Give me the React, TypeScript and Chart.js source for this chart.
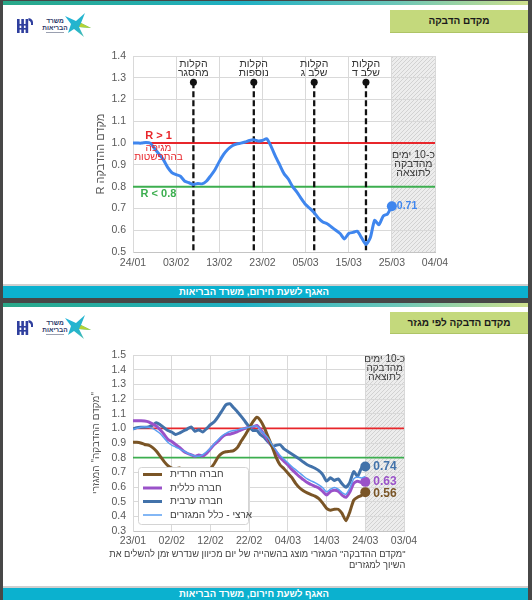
import React, { useEffect, useRef } from 'react';
import { Chart, registerables } from 'chart.js';

Chart.register(...registerables);

const FONT = "'Liberation Sans', Arial, Helvetica, sans-serif";
Chart.defaults.font.family = FONT;
Chart.defaults.color = '#595959';

// ---------------- Slide 1 : R over time ----------------
const R_X_LABELS = ['24/01', '03/02', '13/02', '23/02', '05/03', '15/03', '25/03', '04/04'];
const R_VALUES = [
  1.0, 1.0, 1.0, 1.003, 1.0, 0.975, 0.95, 0.925, 0.89, 0.865,
  0.855, 0.848, 0.825, 0.818, 0.81, 0.815, 0.813, 0.825, 0.85, 0.878,
  0.915, 0.948, 0.972, 0.988, 0.996, 1.0, 1.005, 1.012, 1.015, 1.01,
  1.012, 1.02, 0.985, 0.94, 0.9, 0.86, 0.835, 0.8, 0.775, 0.745,
  0.718, 0.7, 0.68, 0.655, 0.638, 0.63, 0.615, 0.6, 0.585, 0.56,
  0.585, 0.59, 0.595, 0.565, 0.535, 0.565, 0.645, 0.625, 0.665, 0.675,
  0.71,
];
const R_LAST_LABEL = '0.71';
const R_Y_MIN = 0.5;
const R_Y_MAX = 1.4;
const EVENT_DAYS = [14, 28, 42, 54];
const EVENT_TOP = 1.28;
const EVENT_LABELS = [
  ['הקלות', 'מהסגר'],
  ['הקלות', 'נוספות'],
  ['הקלות', 'שלב ג'],
  ['הקלות', 'שלב ד'],
];
const R_HIGH = 1.0;
const R_LOW = 0.8;
const R_HIGH_TEXT = 'R > 1';
const R_HIGH_SUB = ['מגיפה', 'בהתפשטות'];
const R_LOW_TEXT = 'R < 0.8';
const R_Y_TITLE = 'מקדם ההדבקה R';

// shared
const DAY_MIN = 0;
const DAY_MAX = 70;
const LAG_START = 60;
const LAG_TEXT = ['כ-10 ימים', 'מהדבקה', 'לתוצאה'];

// ---------------- Slide 2 : R by sector ----------------
const S_X_LABELS = ['23/01', '02/02', '12/02', '22/02', '04/03', '14/03', '24/03', '03/04'];
const S_Y_MIN = 0.3;
const S_Y_MAX = 1.5;
const SECTOR_NAMES = ['חברה חרדית', 'חברה כללית', 'חברה ערבית', 'ארצי - כלל המגזרים'];
const HAREDI = [
  0.905, 0.905, 0.9, 0.89, 0.885, 0.87, 0.845, 0.81, 0.775, 0.745,
  0.728, 0.725, 0.73, 0.71, 0.7, 0.69, 0.685, 0.69, 0.695, 0.705,
  0.725, 0.76, 0.805, 0.83, 0.84, 0.843, 0.848, 0.87, 0.915, 0.955,
  1.0, 1.045, 1.075, 1.05, 1.0, 0.935, 0.87, 0.8, 0.75, 0.725,
  0.695, 0.665, 0.625, 0.595, 0.575, 0.56, 0.548, 0.538, 0.52, 0.49,
  0.455, 0.442, 0.448, 0.448, 0.42, 0.37, 0.43, 0.51, 0.53, 0.542,
  0.565,
];
const GENERAL = [
  1.051, 1.051, 1.051, 1.05, 1.044, 1.03, 1.016, 0.99, 0.96, 0.925,
  0.91, 0.89, 0.87, 0.845, 0.83, 0.82, 0.81, 0.818, 0.812, 0.83,
  0.86, 0.89, 0.912, 0.94, 0.957, 0.96, 0.968, 0.978, 0.99, 1.0,
  1.005, 1.01, 1.02, 0.99, 0.955, 0.915, 0.875, 0.84, 0.8, 0.775,
  0.75, 0.72, 0.695, 0.67, 0.65, 0.63, 0.617, 0.605, 0.593, 0.57,
  0.545, 0.57, 0.578, 0.572, 0.545, 0.53, 0.565, 0.625, 0.64, 0.63,
  0.635,
];
const ARAB = [
  0.995, 1.005, 1.007, 1.007, 1.01, 1.02, 1.038, 1.025, 1.005, 0.985,
  0.975, 0.958, 0.968, 0.982, 0.995, 1.01, 0.98, 0.99, 0.975, 0.998,
  1.025, 1.045, 1.08, 1.12, 1.16, 1.168, 1.14, 1.112, 1.08, 1.045,
  1.01, 0.985, 0.985, 0.955, 0.935, 0.905, 0.878, 0.885, 0.888, 0.86,
  0.842, 0.825, 0.808, 0.79, 0.77, 0.752, 0.74, 0.728, 0.712, 0.685,
  0.64, 0.663, 0.645, 0.655, 0.622, 0.598, 0.632, 0.705, 0.672, 0.728,
  0.74,
];
const NATIONAL = [
  0.993, 1.0, 1.008, 1.01, 1.008, 1.0, 0.985, 0.965, 0.935, 0.905,
  0.885, 0.873, 0.86, 0.847, 0.832, 0.82, 0.812, 0.81, 0.82, 0.84,
  0.865, 0.895, 0.922, 0.948, 0.965, 0.978, 0.985, 0.99, 0.997, 1.0,
  1.008, 1.015, 1.015, 0.985, 0.96, 0.93, 0.885, 0.848, 0.815, 0.79,
  0.765, 0.74, 0.718, 0.697, 0.675, 0.655, 0.642, 0.63, 0.615, 0.595,
  0.567, 0.585, 0.596, 0.585, 0.562, 0.55, 0.592, 0.655, 0.668, 0.662,
  0.672,
];
const SECTOR_END_LABELS = ['0.56', '0.63', '0.74', ''];
const S_Y_TITLE = '"מקדם ההדבקה" המגזרי';
const FOOTNOTE = ['"מקדם ההדבקה" המגזרי מוצג בהשהייה של יום מכיוון שנדרש זמן להשלים את', 'השיוך למגזרים'];

// colours
const BLUE = '#3f86ee';
const RED = '#e8262b';
const GREEN = '#3cae4f';
const BROWN = '#7a5526';
const PURPLE = '#9a52c9';
const STEEL = '#4272aa';
const LIGHT = '#5a9ff2';
const GRID = '#d9d9d9';

function makeHatch(ctx: CanvasRenderingContext2D) {
  const c = document.createElement('canvas');
  c.width = 4;
  c.height = 4;
  const g = c.getContext('2d')!;
  g.fillStyle = '#ededed';
  g.fillRect(0, 0, 4, 4);
  g.strokeStyle = '#d2d2d2';
  g.lineWidth = 1;
  g.beginPath();
  g.moveTo(-1, 5); g.lineTo(5, -1);
  g.moveTo(3, 5); g.lineTo(5, 3);
  g.moveTo(-1, 1); g.lineTo(1, -1);
  g.stroke();
  return ctx.createPattern(c, 'repeat')!;
}

const hatchPlugin = {
  id: 'hatch',
  beforeDraw(chart: any) {
    const { ctx, chartArea, scales } = chart;
    const x0 = scales.x.getPixelForValue(LAG_START);
    const x1 = scales.x.getPixelForValue(DAY_MAX);
    ctx.save();
    ctx.fillStyle = makeHatch(ctx);
    ctx.fillRect(x0, chartArea.top, x1 - x0, chartArea.bottom - chartArea.top);
    ctx.restore();
  },
  afterDatasetsDraw(chart: any, _a: any, opts: any) {
    const { ctx, chartArea, scales } = chart;
    const x0 = scales.x.getPixelForValue(LAG_START);
    const x1 = scales.x.getPixelForValue(DAY_MAX);
    ctx.save();
    ctx.fillStyle = '#3a3a3a';
    ctx.font = `${opts.size}px ${FONT}`;
    ctx.textAlign = 'center';
    ctx.textBaseline = 'middle';
    const base = opts.baseValue != null ? scales.y.getPixelForValue(opts.baseValue) : chartArea.top;
    LAG_TEXT.forEach((t, i) => ctx.fillText(t, (x0 + x1) / 2, base + opts.offset + i * opts.step));
    ctx.restore();
  },
};

const rAnnotations = {
  id: 'rAnnotations',
  afterDatasetsDraw(chart: any) {
    const { ctx, chartArea, scales } = chart;
    const { x, y } = scales;
    ctx.save();
    ctx.textAlign = 'center';
    ctx.textBaseline = 'middle';
    ctx.fillStyle = '#333';
    ctx.font = `10.5px ${FONT}`;
    EVENT_DAYS.forEach((d, i) => {
      const px = x.getPixelForValue(d);
      EVENT_LABELS[i].forEach((t, j) => ctx.fillText(t, px, chartArea.top + 8.5 + j * 8.5));
    });
    const cx = chartArea.left + 25.5;
    const yh = y.getPixelForValue(R_HIGH);
    const yl = y.getPixelForValue(R_LOW);
    ctx.fillStyle = RED;
    ctx.font = `bold 11px ${FONT}`;
    ctx.fillText(R_HIGH_TEXT, cx, yh - 7);
    ctx.font = `10px ${FONT}`;
    ctx.fillText(R_HIGH_SUB[0], cx, yh + 5.5);
    ctx.fillText(R_HIGH_SUB[1], cx, yh + 14.5);
    ctx.fillStyle = GREEN;
    ctx.font = `bold 11px ${FONT}`;
    ctx.fillText(R_LOW_TEXT, cx, yl + 7.5);
    // end label
    const last = R_VALUES.length - 1;
    ctx.fillStyle = BLUE;
    ctx.font = `bold 10.5px ${FONT}`;
    ctx.textAlign = 'left';
    ctx.fillText(R_LAST_LABEL, x.getPixelForValue(last) + 5, y.getPixelForValue(R_VALUES[last]));
    ctx.restore();
  },
};

const sectorPlugin = {
  id: 'sectorPlugin',
  afterDatasetsDraw(chart: any) {
    const { ctx, chartArea, scales } = chart;
    const { x, y } = scales;
    ctx.save();
    // end labels
    ctx.textAlign = 'left';
    ctx.textBaseline = 'middle';
    ctx.font = `bold 12px ${FONT}`;
    SECTOR_END_LABELS.forEach((lab, i) => {
      if (!lab) return;
      const ds = chart.data.datasets[i];
      const pts = ds.data;
      const p = pts[pts.length - 1];
      ctx.fillStyle = ds.borderColor;
      ctx.fillText(lab, x.getPixelForValue(p.x) + 8, y.getPixelForValue(p.y) + (i === 0 ? 1.5 : 0));
    });
    // legend
    const bw = 110;
    const bh = 57;
    const bx = chartArea.left + 5;
    const by = chartArea.bottom - 7 - bh;
    ctx.fillStyle = '#ffffff';
    ctx.strokeStyle = '#d4d4d4';
    ctx.lineWidth = 1;
    ctx.beginPath();
    (ctx as any).roundRect(bx + 0.5, by + 0.5, bw, bh, 3);
    ctx.fill();
    ctx.stroke();
    ctx.font = `10px ${FONT}`;
    SECTOR_NAMES.forEach((name, i) => {
      const ds = chart.data.datasets[i];
      const yy = by + 7.5 + i * 13.5;
      ctx.strokeStyle = ds.borderColor;
      ctx.lineWidth = ds.borderWidth;
      ctx.beginPath();
      ctx.moveTo(bx + 5, yy);
      ctx.lineTo(bx + 24, yy);
      ctx.stroke();
      ctx.fillStyle = '#404040';
      ctx.fillText(name, bx + 32, yy);
    });
    ctx.restore();
  },
};

const toPts = (arr: number[]) => arr.map((v, i) => ({ x: i, y: v }));
const lastOnly = (n: number, r: number) => (c: any) => (c.dataIndex === n - 1 ? r : 0);

function xScale(labels: string[], padding: number, height: number) {
  return {
    type: 'linear',
    min: DAY_MIN,
    max: DAY_MAX,
    ticks: {
      stepSize: 10,
      autoSkip: false,
      maxRotation: 0,
      padding,
      color: '#595959',
      font: { size: 10.5 },
      callback: (v: number) => labels[Math.round(v / 10)] ?? '',
    },
    grid: { color: GRID, drawTicks: false },
    border: { color: '#c4c4c4' },
    afterFit: (s: any) => { s.height = height; },
  };
}

function yScale(min: number, max: number, title: string, titleSize: number, titlePad: number) {
  return {
    min,
    max,
    ticks: {
      stepSize: 0.1,
      autoSkip: false,
      padding: 7,
      color: '#595959',
      font: { size: 10.5 },
      callback: (v: number) => v.toFixed(1),
    },
    grid: { color: GRID, drawTicks: false },
    border: { color: GRID },
    title: { display: true, text: title, color: '#595959', font: { size: titleSize }, padding: { top: titlePad, bottom: 0 } },
    afterFit: (s: any) => { s.width = 43; },
  };
}

function rConfig(): any {
  return {
    type: 'line',
    data: {
      datasets: [
        {
          data: toPts(R_VALUES), borderColor: BLUE, backgroundColor: BLUE, borderWidth: 3, tension: 0.2,
          pointRadius: lastOnly(R_VALUES.length, 5), pointBorderWidth: 0, order: 0,
        },
        { data: [{ x: DAY_MIN, y: R_HIGH }, { x: DAY_MAX, y: R_HIGH }], borderColor: RED, borderWidth: 2, pointRadius: 0, order: 3 },
        { data: [{ x: DAY_MIN, y: R_LOW }, { x: DAY_MAX, y: R_LOW }], borderColor: GREEN, borderWidth: 2, pointRadius: 0, order: 3 },
        ...EVENT_DAYS.map((d) => ({
          data: [{ x: d, y: EVENT_TOP }, { x: d, y: R_Y_MIN }],
          borderColor: '#111', backgroundColor: '#111', borderWidth: 2.3, borderDash: [6, 3],
          pointRadius: [3.5, 0], pointBorderWidth: 0, order: 1,
        })),
      ],
    },
    options: {
      animation: false,
      responsive: false,
      events: [],
      layout: { padding: { left: 0, right: 35, top: 16, bottom: 3 } },
      plugins: { legend: { display: false }, tooltip: { enabled: false }, hatch: { size: 10.5, baseValue: 0.9, offset: -9.5, step: 9 } },
      scales: {
        x: xScale(R_X_LABELS, 5, 20),
        y: yScale(R_Y_MIN, R_Y_MAX, R_Y_TITLE, 11, 4),
      },
    },
    plugins: [hatchPlugin, rAnnotations],
  };
}

function sConfig(): any {
  const series = [
    { data: HAREDI, color: BROWN, width: 3, order: 1 },
    { data: GENERAL, color: PURPLE, width: 3, order: 2 },
    { data: ARAB, color: STEEL, width: 3, order: 3 },
    { data: NATIONAL, color: LIGHT, width: 1.5, order: 0 },
  ];
  return {
    type: 'line',
    data: {
      datasets: [
        ...series.map((s, i) => ({
          label: SECTOR_NAMES[i],
          data: toPts(s.data), borderColor: s.color, backgroundColor: s.color, borderWidth: s.width, tension: 0.2,
          pointRadius: SECTOR_END_LABELS[i] ? lastOnly(s.data.length, 5) : 0, pointBorderWidth: 0, order: s.order,
        })),
        { data: [{ x: DAY_MIN, y: R_HIGH }, { x: DAY_MAX, y: R_HIGH }], borderColor: RED, borderWidth: 1.8, pointRadius: 0, order: 5 },
        { data: [{ x: DAY_MIN, y: R_LOW }, { x: DAY_MAX, y: R_LOW }], borderColor: GREEN, borderWidth: 1.8, pointRadius: 0, order: 5 },
      ],
    },
    options: {
      animation: false,
      responsive: false,
      events: [],
      layout: { padding: { left: 0, right: 26, top: 15, bottom: 1 } },
      plugins: { legend: { display: false }, tooltip: { enabled: false }, hatch: { size: 10, baseValue: null, offset: 4.5, step: 9 } },
      scales: {
        x: xScale(S_X_LABELS, 4, 18),
        y: yScale(S_Y_MIN, S_Y_MAX, S_Y_TITLE, 10, 0),
      },
    },
    plugins: [hatchPlugin, sectorPlugin],
  };
}

function ChartCanvas({ make, left, top, width, height }: any) {
  const ref = useRef<HTMLCanvasElement>(null);
  useEffect(() => {
    const chart = new Chart(ref.current as HTMLCanvasElement, make());
    return () => chart.destroy();
  }, []);
  return (
    <canvas
      ref={ref}
      dir="rtl"
      width={width}
      height={height}
      style={{ position: 'absolute', left, top, width, height }}
    />
  );
}

function Logo({ top }: { top: number }) {
  return (
    <svg style={{ position: 'absolute', left: 11, top }} width="80" height="26" viewBox="0 0 80 26">
      <defs>
        <linearGradient id={`star${top}`} x1="0" y1="0" x2="1" y2="1">
          <stop offset="0" stopColor="#1fb3db" />
          <stop offset="0.6" stopColor="#27b5c9" />
          <stop offset="1" stopColor="#6cc3a0" />
        </linearGradient>
      </defs>
      <g fill="#2f3f9e">
        <rect x="3" y="6" width="2.6" height="14" />
        <rect x="7.3" y="6" width="2.6" height="14" />
        <rect x="11.6" y="6" width="2.6" height="14" />
        <rect x="3" y="11" width="11" height="1.6" />
        <rect x="3" y="15" width="11" height="1.6" />
        <path d="M14.5 5 Q20 6 19 12 L17 12 Q17.5 8 14.5 7.5 Z" />
      </g>
      <text x="41" y="10" textAnchor="middle" fontSize="6.5" fontWeight="bold" fill="#2a3566" fontFamily={FONT}>משרד</text>
      <text x="41" y="16.5" textAnchor="middle" fontSize="6.5" fontWeight="bold" fill="#2a3566" fontFamily={FONT}>הבריאות</text>
      <rect x="32" y="19" width="18" height="1" fill="#9aa0b0" />
      <polygon points="51,3 62,8 71,0 67,10 77,15 65,14 70,24 60,16 54,20 57,11" fill={`url(#star${top})`} />
      <polygon points="67,10 77,15 65,14" fill="#b5d334" />
    </svg>
  );
}

function Slide({ top, height, title }: { top: number; height: number; title: string }) {
  return (
    <div style={{ position: 'absolute', left: 3, top, width: 525, height, background: '#ffffff', overflow: 'hidden' }}>
      <div style={{ position: 'absolute', left: 0, top: 0, width: 525, height: 4, background: 'linear-gradient(90deg, #2aa888 0%, #1fb0c4 45%, #6cc6b8 75%, #cfe08c 100%)' }} />
      <Logo top={12} />
      <div
        dir="rtl"
        style={{
          position: 'absolute', left: 387, top: 9, width: 138, height: 22.5, background: '#c4d97c',
          borderBottom: '1px solid #aec466', boxSizing: 'border-box',
          display: 'flex', alignItems: 'center', justifyContent: 'center',
          fontSize: 10, fontWeight: 'bold', color: '#1a1a1a',
        }}
      >
        {title}
      </div>
      <div style={{ position: 'absolute', left: 0, top: height - 14, width: 525, height: 2, background: '#cfcfcf' }} />
      <div style={{ position: 'absolute', left: 0, top: height - 12, width: 525, height: 12, background: '#0bb1cf' }} />
      <div
        dir="rtl"
        style={{
          position: 'absolute', left: 0, top: height - 12, width: 502, height: 12, lineHeight: '12px',
          textAlign: 'center', color: '#ffffff', fontSize: 9.5, fontWeight: 'bold',
        }}
      >
        האגף לשעת חירום, משרד הבריאות
      </div>
    </div>
  );
}

export default function App() {
  useEffect(() => {
    document.body.style.margin = '0';
  }, []);
  return (
    <div style={{ position: 'relative', width: 532, height: 600, background: '#474747', overflow: 'hidden', fontFamily: FONT }}>
      <Slide top={1} height={296.5} title="מקדם הדבקה" />
      <Slide top={302.5} height={297.5} title="מקדם הדבקה לפי מגזר" />
      <ChartCanvas make={rConfig} left={90} top={40} width={380} height={235} />
      <ChartCanvas make={sConfig} left={90} top={340} width={340} height={210} />
      <div
        dir="rtl"
        style={{
          position: 'absolute', left: 60, width: 345.5, top: 548.5, textAlign: 'right',
          fontSize: 9.3, lineHeight: '11px', color: '#404040', whiteSpace: 'nowrap',
        }}
      >
        {FOOTNOTE[0]}
        <br />
        {FOOTNOTE[1]}
      </div>
    </div>
  );
}
